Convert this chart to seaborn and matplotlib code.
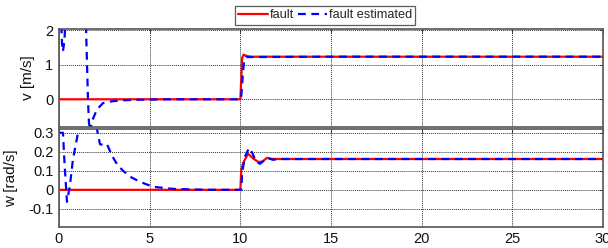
import numpy as np
import pandas as pd
import matplotlib
matplotlib.use("Agg")
import matplotlib.pyplot as plt
import seaborn as sns

# ---- data ----
t_v_fault = [0, 10.0, 10.1, 10.18, 10.35, 10.6, 30]
v_fault = [0, 0, 1.2, 1.29, 1.25, 1.23, 1.23]

t_v_est = [0, 0.1, 0.17, 0.22, 0.3, 0.36, 0.5, 1.0, 1.45, 1.5, 1.6, 1.65, 1.72,
           1.82, 2.1, 2.43, 2.9, 3.47, 4.2, 5.0, 6.0, 8.0, 10.0, 10.05, 10.12,
           10.2, 10.3, 15, 20, 25, 30]
v_est = [3.0, 2.6, 1.6, 1.38, 1.7, 2.3, 3.0, 3.5, 2.5, 1.9, 0.0, -0.66, -0.95,
         -0.63, -0.29, -0.11, -0.06, -0.03, -0.015, -0.008, 0.0, 0.0, 0.0, 0.1, 0.6,
         1.1, 1.22, 1.23, 1.23, 1.23, 1.23]

t_w_fault = [0, 10.0, 10.05, 10.15, 10.42, 10.7, 10.98, 11.2, 11.47, 11.7, 12.0, 30]
w_fault = [0, 0, 0.105, 0.14, 0.19, 0.165, 0.147, 0.148, 0.168, 0.163, 0.162, 0.162]

t_w_est = [0, 0.22, 0.3, 0.44, 0.6, 0.77, 1.05, 1.3, 1.6, 1.9, 2.1, 2.26, 2.45,
           2.65, 2.92, 3.2, 3.53, 4.0, 4.47, 5.18, 6.29, 7.0, 8.16, 10.0, 10.05,
           10.1, 10.25, 10.48, 10.65, 10.88, 11.09, 11.35, 11.5, 11.78, 12.2, 30]
w_est = [0.3, 0.3, 0.15, -0.063, 0.02, 0.16, 0.3, 0.38, 0.42, 0.38, 0.316, 0.24,
         0.235, 0.24, 0.18, 0.135, 0.1, 0.065, 0.042, 0.016, 0.005, 0.003, 0.0, 0.0,
         0.0, 0.09, 0.174, 0.22, 0.195, 0.147, 0.137, 0.158, 0.168, 0.158, 0.162, 0.162]

x_ticks = [0, 5, 10, 15, 20, 25, 30]
v_ticks = [0, 1, 2]
w_ticks = [-0.1, 0, 0.1, 0.2, 0.3]
w_tick_labels = ["-0.1", "0", "0.1", "0.2", "0.3"]

# ---- style ----
sns.set_style("white")
plt.rcParams["font.family"] = ["Liberation Sans", "DejaVu Sans"]
plt.rcParams["font.size"] = 10.5

fig = plt.figure(figsize=(6.08, 2.48), dpi=100)
ax1 = fig.add_axes([0.097, 0.488, 0.895, 0.395])
ax2 = fig.add_axes([0.097, 0.085, 0.895, 0.395])

red = "#ff0000"
blue = "#0000ff"

df_vf = pd.DataFrame({"t": t_v_fault, "y": v_fault})
df_ve = pd.DataFrame({"t": t_v_est, "y": v_est})
df_wf = pd.DataFrame({"t": t_w_fault, "y": w_fault})
df_we = pd.DataFrame({"t": t_w_est, "y": w_est})

sns.lineplot(data=df_vf, x="t", y="y", ax=ax1, color=red, lw=1.6, sort=False,
             estimator=None, label="fault", legend=False)
sns.lineplot(data=df_ve, x="t", y="y", ax=ax1, color=blue, lw=1.6, sort=False,
             estimator=None, label="fault estimated", legend=False, dashes=False)
ax1.lines[1].set_linestyle((0, (3.5, 2.5)))

sns.lineplot(data=df_wf, x="t", y="y", ax=ax2, color=red, lw=1.6, sort=False,
             estimator=None, legend=False)
sns.lineplot(data=df_we, x="t", y="y", ax=ax2, color=blue, lw=1.6, sort=False,
             estimator=None, legend=False)
ax2.lines[1].set_linestyle((0, (3.5, 2.5)))

for ax in (ax1, ax2):
    ax.set_xlim(0, 30)
    ax.set_xticks(x_ticks)
    ax.grid(True, color="#333333", linestyle=(0, (1, 1)), lw=0.7)
    ax.tick_params(direction="in", top=True, right=True, length=3,
                   width=0.6, labelsize=10.5, pad=4, colors="#222222")
    ax.tick_params(axis="both", labelcolor="#111111")
    for s in ax.spines.values():
        s.set_color("#555555")
        s.set_linewidth(1.2)
    ax.set_xlabel("")

ax1.set_ylim(-0.8, 2.03)
ax1.set_yticks(v_ticks)
ax1.set_xticklabels([])
ax1.set_ylabel("v [m/s]", fontsize=11, labelpad=7, color="#111111")

ax2.set_ylim(-0.195, 0.32)
ax2.set_yticks(w_ticks)
ax2.set_yticklabels(w_tick_labels)
ax2.set_xticklabels([str(x) for x in x_ticks])
ax2.set_ylabel("w [rad/s]", fontsize=11, labelpad=7, color="#111111")

fig.align_ylabels([ax1, ax2])

handles, labels = ax1.get_legend_handles_labels()
leg = fig.legend(handles, labels, loc="center", bbox_to_anchor=(0.535, 0.938),
                 ncol=2, frameon=True, fancybox=False, edgecolor="#333333",
                 fontsize=9.2, handlelength=2.3, handletextpad=0.15,
                 columnspacing=0.3, borderpad=0.25, borderaxespad=0)
leg.get_frame().set_linewidth(0.9)

fig.savefig("out.png", dpi=100)
